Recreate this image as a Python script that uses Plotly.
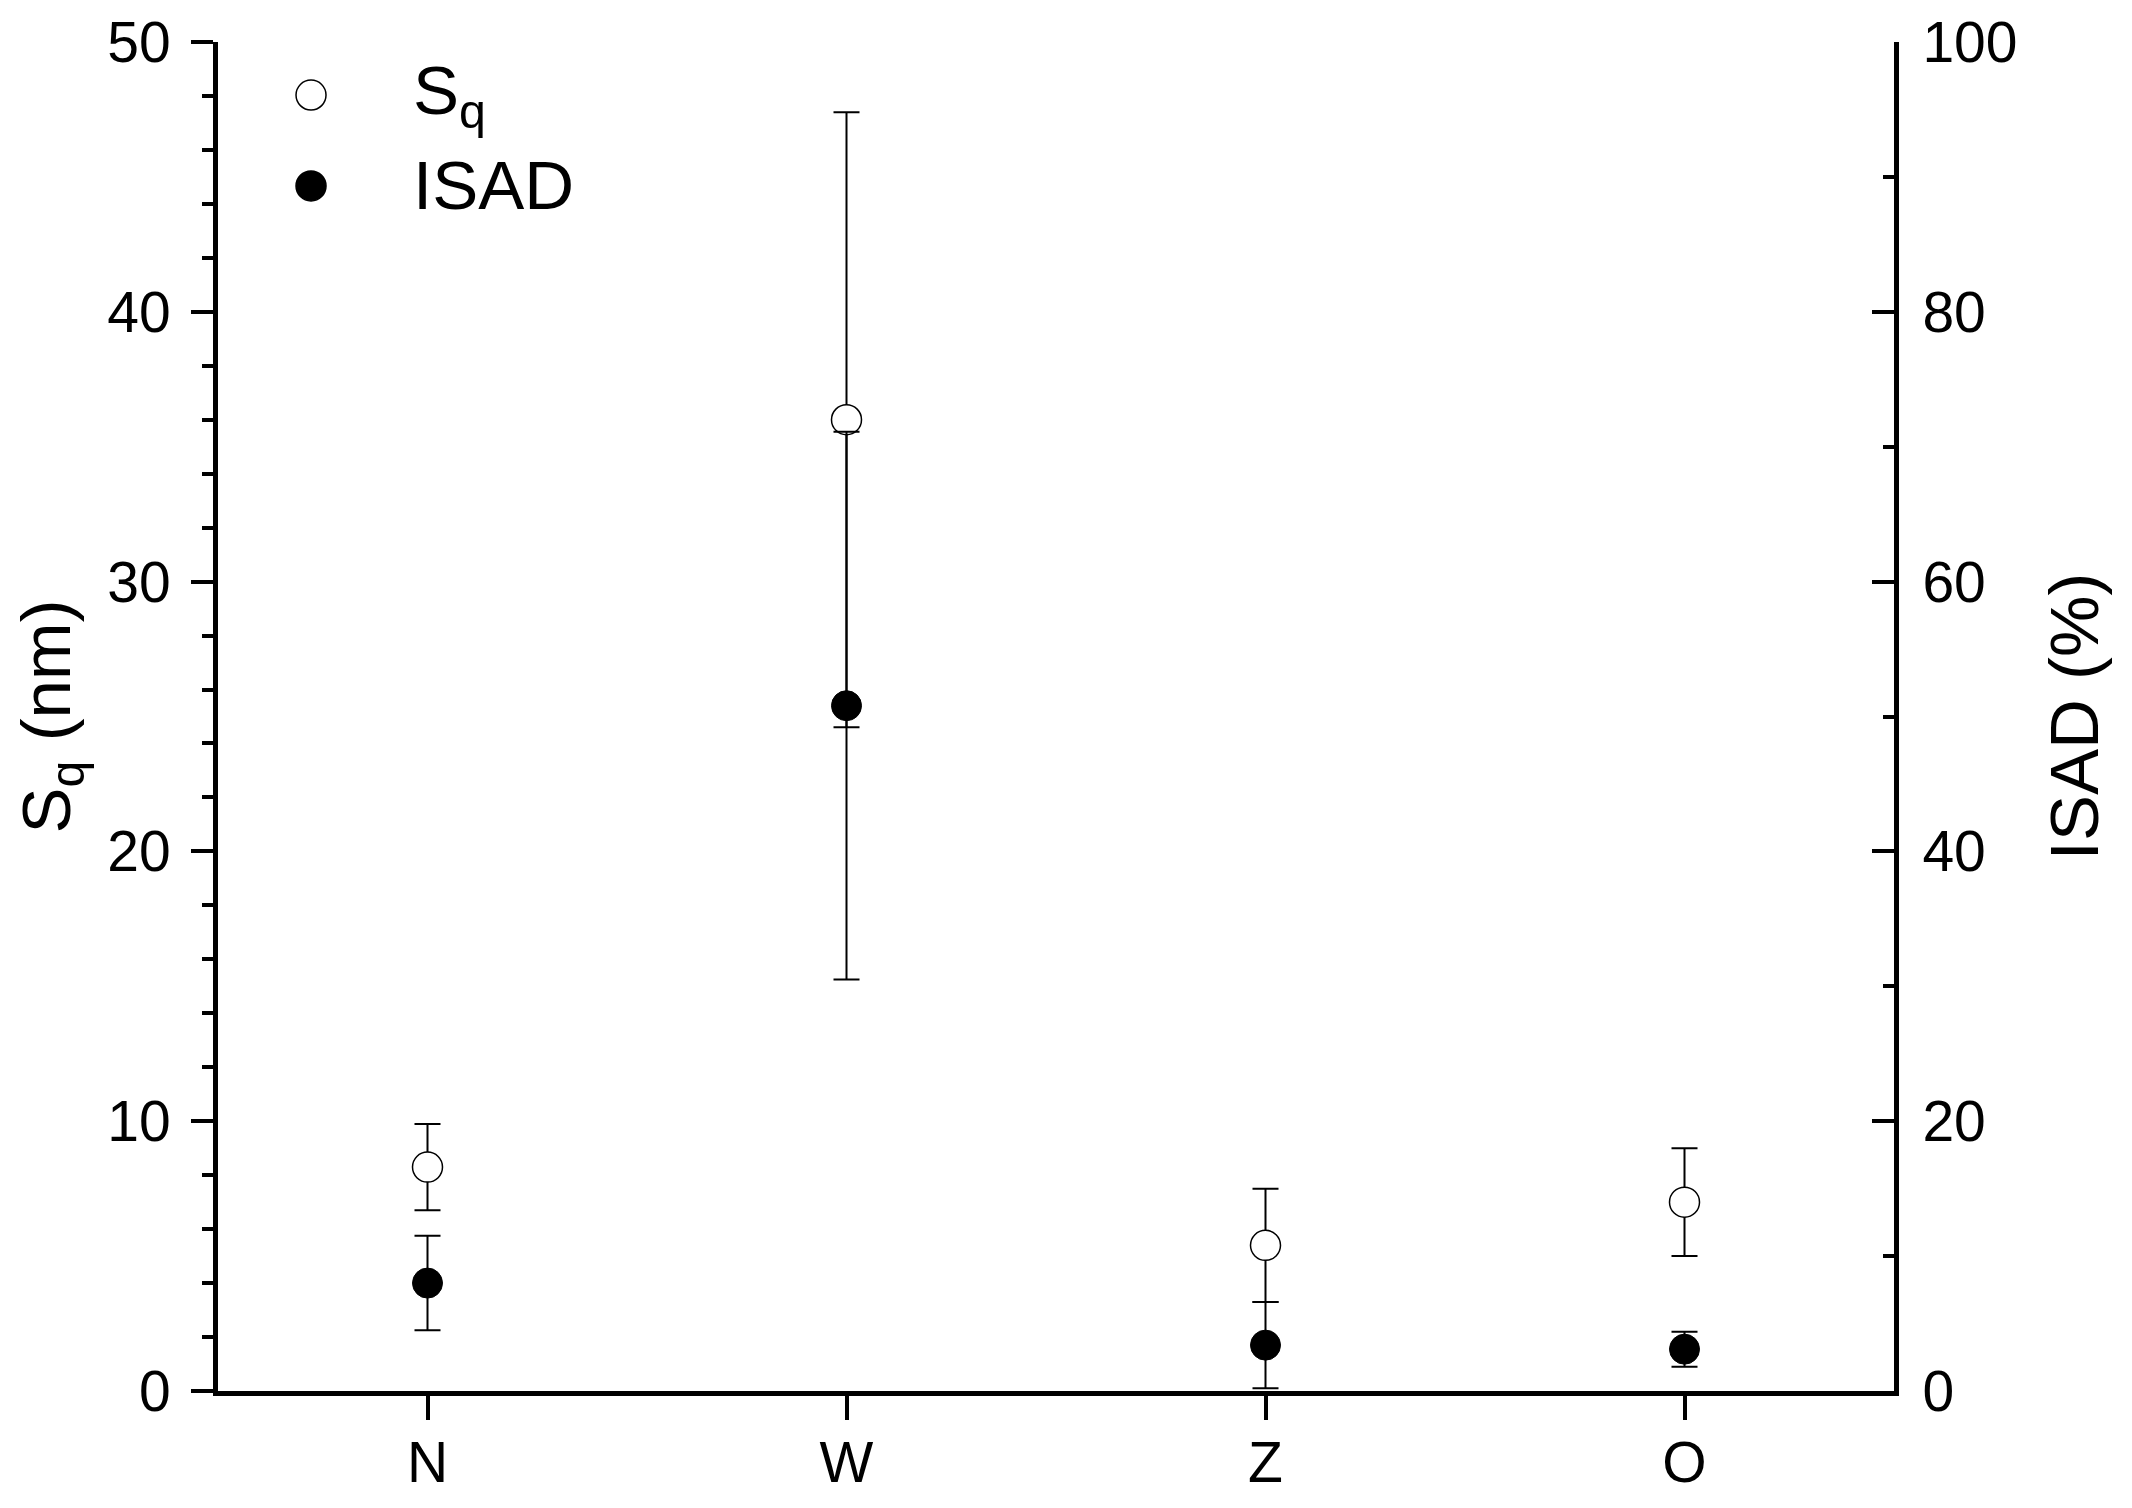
import plotly.graph_objects as go

categories = ["N", "W", "Z", "O"]
sq = [8.3, 36.0, 5.4, 7.0]
sq_err = [1.6, 11.4, 2.1, 2.0]
isad = [8.0, 50.8, 3.4, 3.1]
isad_err = [3.5, 20.3, 3.2, 1.3]

FONT = "Arial, Liberation Sans, sans-serif"

fig = go.Figure()

fig.add_trace(go.Scatter(
    x=categories, y=sq, mode="markers", name="S<sub>q</sub>", showlegend=False,
    marker=dict(symbol="circle", size=30, color="white", line=dict(color="black", width=1.5)),
    error_y=dict(type="data", array=sq_err, visible=True, color="black", thickness=2, width=13),
))
fig.add_trace(go.Scatter(
    x=categories, y=isad, mode="markers", name="ISAD", yaxis="y2", showlegend=False,
    marker=dict(symbol="circle", size=30, color="black", line=dict(color="black", width=1)),
    error_y=dict(type="data", array=isad_err, visible=True, color="black", thickness=2, width=13),
))

# legend drawn by hand so the symbols keep their full size
legend_items = [("S<sub>q</sub>", "white", 0.9607), ("ISAD", "black", 0.8933)]
for label, fill, yp in legend_items:
    fig.add_shape(type="circle", xref="paper", yref="paper", xsizemode="pixel", ysizemode="pixel",
                  xanchor=0.0555, yanchor=yp, x0=-15, x1=15, y0=-15, y1=15,
                  fillcolor=fill, line=dict(color="black", width=1.5))
    fig.add_annotation(x=0.1152, y=yp, xref="paper", yref="paper", text=label, showarrow=False,
                       xanchor="left", yanchor="middle", font=dict(size=69, color="black", family=FONT))

axis_common = dict(showline=True, linecolor="black", linewidth=5, showgrid=False, zeroline=False,
                   tickfont=dict(size=57, color="black", family=FONT), tickwidth=4, tickcolor="black",
                   automargin=False)

fig.update_layout(
    width=2132, height=1508,
    paper_bgcolor="white", plot_bgcolor="white",
    # page body adds 8px, so margins are trimmed to keep the plot box in place
    margin=dict(l=210, r=246, t=34, b=125),
    font=dict(family=FONT, color="black"),
    xaxis=dict(**axis_common, range=[-0.5, 3.5], ticks="outside", ticklen=24, mirror=False,
               ticklabelstandoff=-6),
    yaxis=dict(**axis_common, range=[0, 50], dtick=10, ticks="outside", ticklen=22, ticklabelstandoff=9,
               minor=dict(dtick=2, ticks="outside", ticklen=11, tickwidth=4, tickcolor="black"),
               title=dict(text="S<sub>q</sub> (nm)", font=dict(size=69, color="black", family=FONT), standoff=48)),
    yaxis2=dict(**axis_common, range=[0, 100], dtick=20, ticks="inside", ticklen=22, overlaying="y", side="right",
                ticklabelstandoff=12,
                minor=dict(dtick=10, ticks="inside", ticklen=11, tickwidth=4, tickcolor="black"),
                title=dict(text="ISAD (%)", font=dict(size=69, color="black", family=FONT), standoff=35)),
)

fig.write_html("out.html")
